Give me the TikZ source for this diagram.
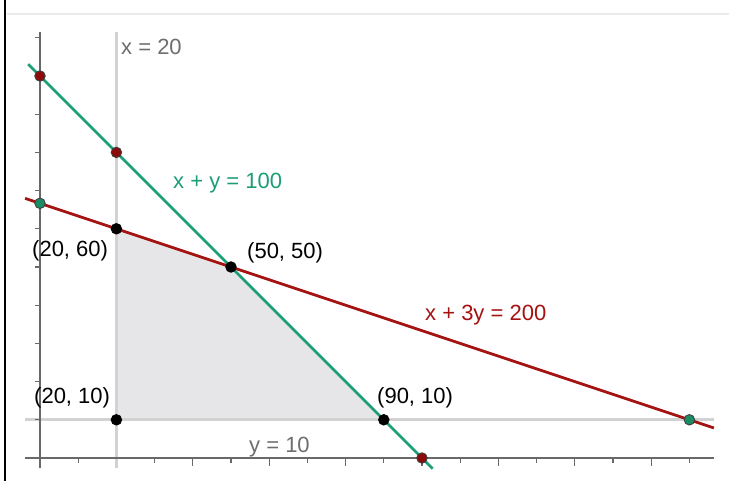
\documentclass[tikz,border=0pt]{standalone}
\usepackage{fontspec}
\setmainfont{Liberation Sans}
\definecolor{lgreen}{RGB}{27,158,119}
\definecolor{lred}{RGB}{165,18,18}
\definecolor{dred}{RGB}{140,10,10}
\definecolor{dteal}{RGB}{25,140,100}
\definecolor{guidegray}{RGB}{210,210,210}
\definecolor{axisgray}{RGB}{105,105,105}
\definecolor{txtgray}{RGB}{110,110,110}
\definecolor{shadegray}{RGB}{230,230,232}
\begin{document}
\begin{tikzpicture}[x=1pt,y=-1pt,
  lbl/.style={anchor=base west, inner sep=0pt, font=\fontsize{22}{25}\selectfont},
  guide/.style={draw=guidegray, line width=3pt},
  axisline/.style={draw=axisgray, line width=1.1pt},
  gline/.style={draw=lgreen, line width=2.8pt},
  rline/.style={draw=lred, line width=2.8pt},
  dot/.style={circle, inner sep=0pt, minimum size=10.5pt, draw=black!75, line width=0.9pt},
  reddot/.style={dot, fill=dred},
  tealdot/.style={dot, fill=dteal},
  blackdot/.style={dot, fill=black, draw=black}]
\path[use as bounding box] (0,0) rectangle (729,481);
\fill[white] (0,0) rectangle (729,481);
\draw[line width=2.5pt] (5,0) -- (5,481);
\draw[black!8, line width=2pt] (7,14) -- (729,14);
\begin{scope}[shift={(40,458)}, x=3.82pt, y=3.82pt]
  \fill[shadegray] (20,10) -- (20,60) -- (50,50) -- (90,10) -- cycle;
  \coordinate (vx1) at (20,-2.6);
  \coordinate (vx2) at (20,111.5);
  \coordinate (hy1) at (-3.9,10);
  \coordinate (hy2) at (176.4,10);
  \draw[guide] (vx1) -- (vx2);
  \draw[guide] (hy1) -- (hy2);
  \coordinate (ya1) at (0,-2.6);
  \coordinate (ya2) at (0,111.5);
  \coordinate (xa1) at (-3.9,0);
  \coordinate (xa2) at (176.4,0);
  \draw[axisline] (ya1) -- (ya2);
  \draw[axisline] (xa1) -- (xa2);
  \foreach \i in {10,30,...,170} \draw[axisline] (\i,0) -- (\i,-1.3);
  \foreach \i in {40,60,...,160} \draw[axisline] (\i,0) -- (\i,-2.1);
  \foreach \j in {10,20,...,110} \draw[axisline] (0,\j) -- (-1.4,\j);
  \coordinate (g1) at (-3.1,103.1);
  \coordinate (g2) at (102.8,-2.8);
  \coordinate (r1) at (-3.9,67.97);
  \coordinate (r2) at (176.4,7.87);
  \draw[gline] (g1) -- (g2);
  \draw[rline] (r1) -- (r2);
  \node[reddot] (p0100) at (0,100) {};
  \node[reddot] (p2080) at (20,80) {};
  \node[reddot] (p1000) at (100,0) {};
  \node[tealdot] (p067) at (0,66.667) {};
  \node[tealdot] (p17010) at (170,10) {};
  \node[blackdot] (p2060) at (20,60) {};
  \node[blackdot] (p5050) at (50,50) {};
  \node[blackdot] (p2010) at (20,10) {};
  \node[blackdot] (p9010) at (90,10) {};
\end{scope}
\node[lbl, text=txtgray] (lx20) at (121,55) {x = 20};
\node[lbl, text=lgreen] (lxy) at (173,189) {x + y = 100};
\node[lbl] (l2060) at (32,257) {(20, 60)};
\node[lbl] (l5050) at (247,259) {(50, 50)};
\node[lbl, text=lred] (lx3y) at (425,321) {x + 3y = 200};
\node[lbl] (l2010) at (34,403) {(20, 10)};
\node[lbl] (l9010) at (377,403) {(90, 10)};
\node[lbl, text=txtgray] (ly10) at (249,452) {y = 10};
\end{tikzpicture}
\end{document}
